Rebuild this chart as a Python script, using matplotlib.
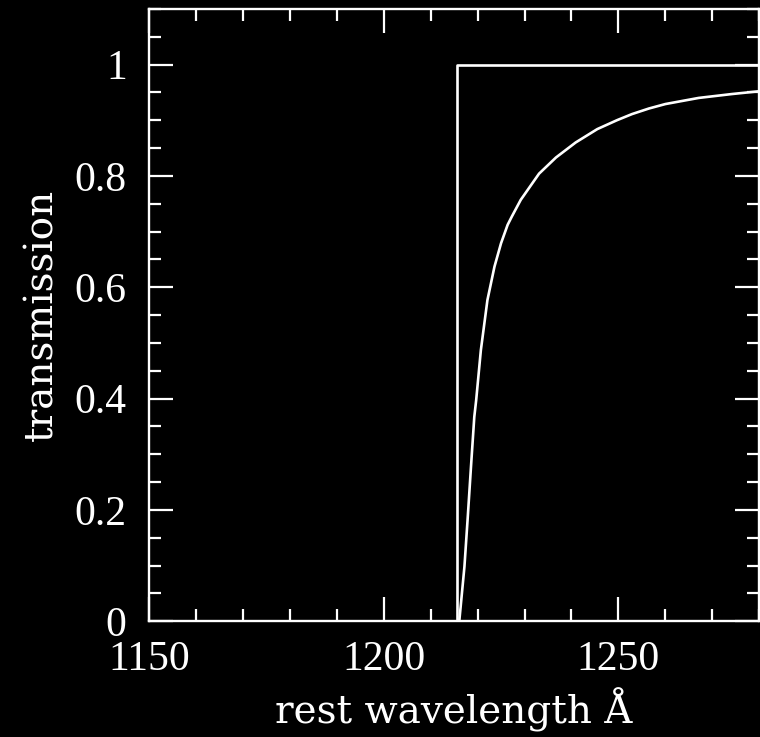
import matplotlib
matplotlib.use('Agg')
import matplotlib.pyplot as plt
from matplotlib.ticker import MultipleLocator

# Ly-alpha step (no IGM damping) vs damped transmission
lya = 1215.67
step_wave = [1150, lya, lya, 1280]
step_trans = [0, 0, 1, 1]

wave = [1216.1, 1217.2, 1217.9, 1218.6, 1219.3, 1219.7, 1220.7, 1222.1,
        1223.6, 1225.0, 1226.4, 1227.3, 1229.2, 1233.1, 1236.7,
        1240.9, 1245.5, 1249.7, 1252.9, 1256.5, 1260.0, 1267.1, 1274.2,
        1280.0]
trans = [0.0, 0.098, 0.186, 0.278, 0.367, 0.397, 0.487, 0.577,
         0.637, 0.679, 0.712, 0.727, 0.757, 0.804, 0.833,
         0.860, 0.884, 0.900, 0.911, 0.921, 0.929, 0.940, 0.947,
         0.952]

xticks = [1150, 1200, 1250]
yticks = [0, 0.2, 0.4, 0.6, 0.8, 1.0]
ytick_labels = ['0', '0.2', '0.4', '0.6', '0.8', '1']

plt.rcParams['font.family'] = ['Liberation Serif', 'DejaVu Serif']

fig = plt.figure(figsize=(7.6, 7.37), dpi=100, facecolor='black')
ax = fig.add_axes([0.196, 0.157, 0.803, 0.831], facecolor='black')

ax.plot(step_wave, step_trans, color='white', lw=1.9)
ax.plot(wave, trans, color='white', lw=1.9)

ax.set_xlim(1150, 1280)
ax.set_ylim(0, 1.1)
ax.set_xticks(xticks)
ax.set_yticks(yticks)
ax.set_yticklabels(ytick_labels)
ax.xaxis.set_minor_locator(MultipleLocator(10))
ax.yaxis.set_minor_locator(MultipleLocator(0.05))

for s in ax.spines.values():
    s.set_color('white')
    s.set_linewidth(1.7)

ax.tick_params(which='both', direction='in', top=True, right=True,
               colors='white', width=1.6, labelsize=30)
ax.tick_params(which='major', length=17)
ax.tick_params(which='minor', length=8.5)
ax.tick_params(axis='x', pad=14)
ax.tick_params(axis='y', pad=16)

ax.set_xlabel('rest wavelength Å', color='white', fontsize=28,
              family='DejaVu Serif', labelpad=6)
ax.set_ylabel('transmission', color='white', fontsize=28,
              family='DejaVu Serif', labelpad=10)

fig.savefig('out.png', dpi=100, facecolor='black')
